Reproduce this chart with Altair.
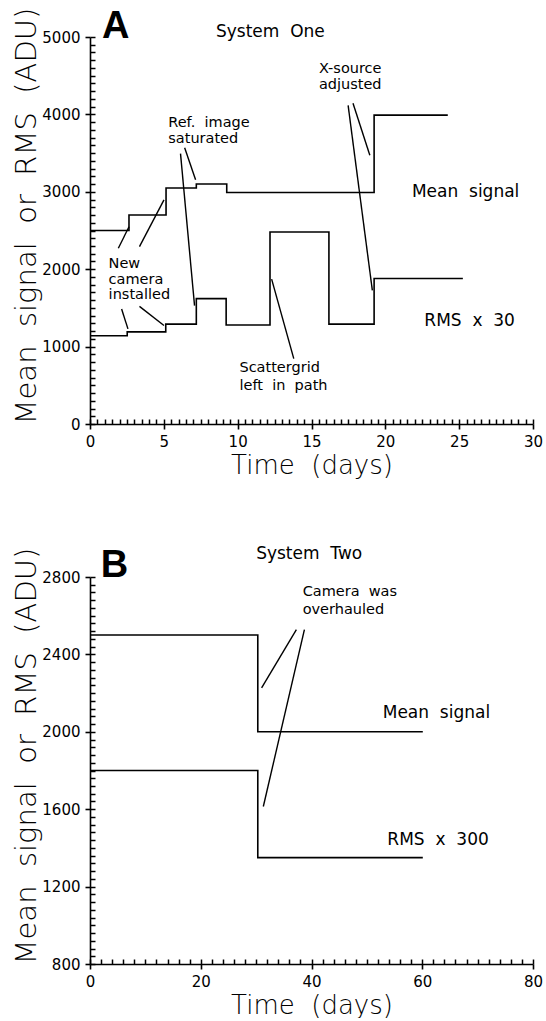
import altair as alt
import pandas as pd

FONT = "DejaVu Sans"
TITLE_WEIGHT = 200
TEXT_WEIGHT = "normal"
BOLD_FONT = "Liberation Sans"
NB = "\u00a0"  # wide word gaps

# ---------------- System One (panel A) ----------------
mean_a_t = [0, 2.64, 5.15, 7.2, 9.26, 19.24, 24.23]
mean_a_v = [2500, 2700, 3050, 3100, 2990, 3990, 3990]
rms_a_t = [0, 2.52, 5.13, 7.2, 9.22, 12.19, 16.18, 19.24, 25.25]
rms_a_v = [1140, 1190, 1290, 1620, 1280, 2480, 1290, 1880, 1880]

# leader lines: start x/y -> end x/y
lead_a_x1 = [17.48, 17.81, 6.13, 6.41, 1.92, 3.35, 2.14, 3.35, 13.8]
lead_a_y1 = [4116, 4145, 3493, 3568, 2270, 2291, 1486, 1520, 844]
lead_a_x2 = [19.12, 18.95, 7.08, 7.15, 2.64, 5.01, 2.57, 5.01, 12.3]
lead_a_y2 = [1726, 3472, 1529, 3156, 2548, 2895, 1229, 1272, 1872]

note_a_text = ["X-source", "adjusted", "Ref." + NB * 2 + "image", "saturated",
               "New", "camera", "installed", "Scattergrid",
               "left" + NB * 2 + "in" + NB * 2 + "path"]
note_a_x = [15.5, 15.5, 5.30, 5.30, 1.26, 1.26, 1.26, 10.12, 10.12]
note_a_y = [4587, 4377, 3893, 3682, 2064, 1863, 1662, 728, 493]

series_a_text = ["Mean" + NB * 2 + "signal", "RMS" + NB * 2 + "x" + NB * 2 + "30",
                 "System" + NB * 2 + "One"]
series_a_x = [21.8, 22.64, 8.53]
series_a_y = [3000, 1328, 5060]

# ---------------- System Two (panel B) ----------------
mean_b_t = [0, 30.3, 60.1]
mean_b_v = [2500, 2000, 2000]
rms_b_t = [0, 30.3, 60.1]
rms_b_v = [1800, 1350, 1350]

lead_b_x1 = [37.27, 38.72]
lead_b_y1 = [2528, 2528]
lead_b_x2 = [30.99, 31.3]
lead_b_y2 = [2227, 1614]

note_b_text = ["Camera" + NB * 2 + "was", "overhauled"]
note_b_x = [38.4, 38.4]
note_b_y = [2721, 2628]

series_b_text = ["Mean" + NB * 2 + "signal", "RMS" + NB * 2 + "x" + NB * 2 + "300",
                 "System" + NB * 2 + "Two"]
series_b_x = [52.86, 53.7, 30.0]
series_b_y = [2098, 1442, 2920]

# axis ticks
x_major_a = [0, 5, 10, 15, 20, 25, 30]
y_major_a = [0, 1000, 2000, 3000, 4000, 5000]
x_major_b = [0, 20, 40, 60, 80]
y_major_b = [800, 1200, 1600, 2000, 2400, 2800]
x_minor_a = [i * 0.5 for i in range(61)]
y_minor_a = [i * 100 for i in range(51)]
x_minor_b = [i * 2 for i in range(41)]
y_minor_b = [800 + i * 40 for i in range(51)]

W, H = 443, 387


def panel(letter, letter_x, letter_y, mean_t, mean_v, rms_t, rms_v,
          lx1, ly1, lx2, ly2, nt, nx, ny, st, sx, sy,
          xdom, ydom, xmaj, ymaj, xmin, ymin):
    def xs():
        return alt.Scale(domain=xdom, nice=False, zero=False)

    def ys():
        return alt.Scale(domain=ydom, nice=False, zero=False)

    steps = pd.DataFrame({
        "t": mean_t + rms_t,
        "v": mean_v + rms_v,
        "series": ["mean"] * len(mean_t) + ["rms"] * len(rms_t),
    })
    leaders = pd.DataFrame({"x1": lx1, "y1": ly1, "x2": lx2, "y2": ly2})
    notes = pd.DataFrame({"x": nx, "y": ny, "label": nt})
    series_lbl = pd.DataFrame({"x": sx, "y": sy, "label": st})
    big = pd.DataFrame({"x": [letter_x], "y": [letter_y], "label": [letter]})

    x_axis = alt.Axis(values=xmaj, format="d", tickSize=5, tickWidth=1.6,
                      domainWidth=1.6, domainColor="black", tickColor="black",
                      labelFont=FONT, labelFontWeight=TEXT_WEIGHT, labelFontSize=15,
                      labelColor="black", labelPadding=5, labelFlush=False,
                      grid=False, title="Time" + NB * 2 + "(days)",
                      titleFont=FONT, titleFontWeight=TITLE_WEIGHT, titleFontSize=26,
                      titleColor="black", titlePadding=3)
    y_axis = alt.Axis(values=ymaj, format="d", tickSize=5, tickWidth=1.6,
                      domainWidth=1.6, domainColor="black", tickColor="black",
                      labelFont=FONT, labelFontWeight=TEXT_WEIGHT, labelFontSize=15,
                      labelColor="black", labelPadding=5, labelFlush=False,
                      grid=False,
                      title=NB.join(["Mean", "", "signal", "", "or", "", "RMS", "", "(ADU)"]),
                      titleFont=FONT, titleFontWeight=TITLE_WEIGHT, titleFontSize=29,
                      titleColor="black", titleAnchor="start", titlePadding=0)
    # inward-pointing minor ticks: opposite-side axes pulled onto the plot edges
    x_minor = alt.Axis(orient="top", offset=-H, values=xmin, tickSize=5,
                       tickWidth=1.5, tickColor="black", labels=False,
                       domain=False, grid=False, title=None)
    y_minor = alt.Axis(orient="right", offset=-W, values=ymin, tickSize=5,
                       tickWidth=1.5, tickColor="black", labels=False,
                       domain=False, grid=False, title=None)

    lines = alt.Chart(steps).mark_line(
        interpolate="step-after", color="black", strokeWidth=1.6
    ).encode(
        x=alt.X("t:Q", scale=xs(), axis=x_axis),
        y=alt.Y("v:Q", scale=ys(), axis=y_axis),
        detail="series:N",
    )
    rules = alt.Chart(leaders).mark_rule(color="black", strokeWidth=1.4).encode(
        x=alt.X("x1:Q", scale=xs(), axis=x_minor),
        y=alt.Y("y1:Q", scale=ys(), axis=y_minor),
        x2="x2:Q",
        y2="y2:Q",
    )
    note_txt = alt.Chart(notes).mark_text(
        align="left", baseline="middle", font=FONT, fontWeight=TEXT_WEIGHT,
        fontSize=14.5, color="black"
    ).encode(
        x=alt.X("x:Q", scale=xs(), axis=None),
        y=alt.Y("y:Q", scale=ys(), axis=None),
        text="label:N",
    )
    series_txt = alt.Chart(series_lbl).mark_text(
        align="left", baseline="middle", font=FONT, fontWeight=TEXT_WEIGHT,
        fontSize=17, color="black"
    ).encode(
        x=alt.X("x:Q", scale=xs(), axis=None),
        y=alt.Y("y:Q", scale=ys(), axis=None),
        text="label:N",
    )
    big_txt = alt.Chart(big).mark_text(
        align="center", baseline="alphabetic", font=BOLD_FONT,
        fontWeight="bold", fontSize=38, color="black"
    ).encode(
        x=alt.X("x:Q", scale=xs(), axis=None),
        y=alt.Y("y:Q", scale=ys(), axis=None),
        text="label:N",
    )
    return alt.layer(lines, rules, note_txt, series_txt, big_txt).resolve_scale(
        x="independent", y="independent"
    ).properties(width=W, height=H)


panel_a = panel("A", 1.75, 4990, mean_a_t, mean_a_v, rms_a_t, rms_a_v,
                lead_a_x1, lead_a_y1, lead_a_x2, lead_a_y2,
                note_a_text, note_a_x, note_a_y,
                series_a_text, series_a_x, series_a_y,
                [0, 30], [0, 5000], x_major_a, y_major_a, x_minor_a, y_minor_a)
panel_b = panel("B", 4.4, 2800, mean_b_t, mean_b_v, rms_b_t, rms_b_v,
                lead_b_x1, lead_b_y1, lead_b_x2, lead_b_y2,
                note_b_text, note_b_x, note_b_y,
                series_b_text, series_b_x, series_b_y,
                [0, 80], [800, 2800], x_major_b, y_major_b, x_minor_b, y_minor_b)

chart = alt.vconcat(panel_a, panel_b, spacing=153, bounds="flush").properties(
    padding={"left": 12, "top": 7, "right": 0, "bottom": 0},
    background="white",
).configure_view(stroke=None)

chart.save("out.html", embed_options={"renderer": "svg", "actions": False})
